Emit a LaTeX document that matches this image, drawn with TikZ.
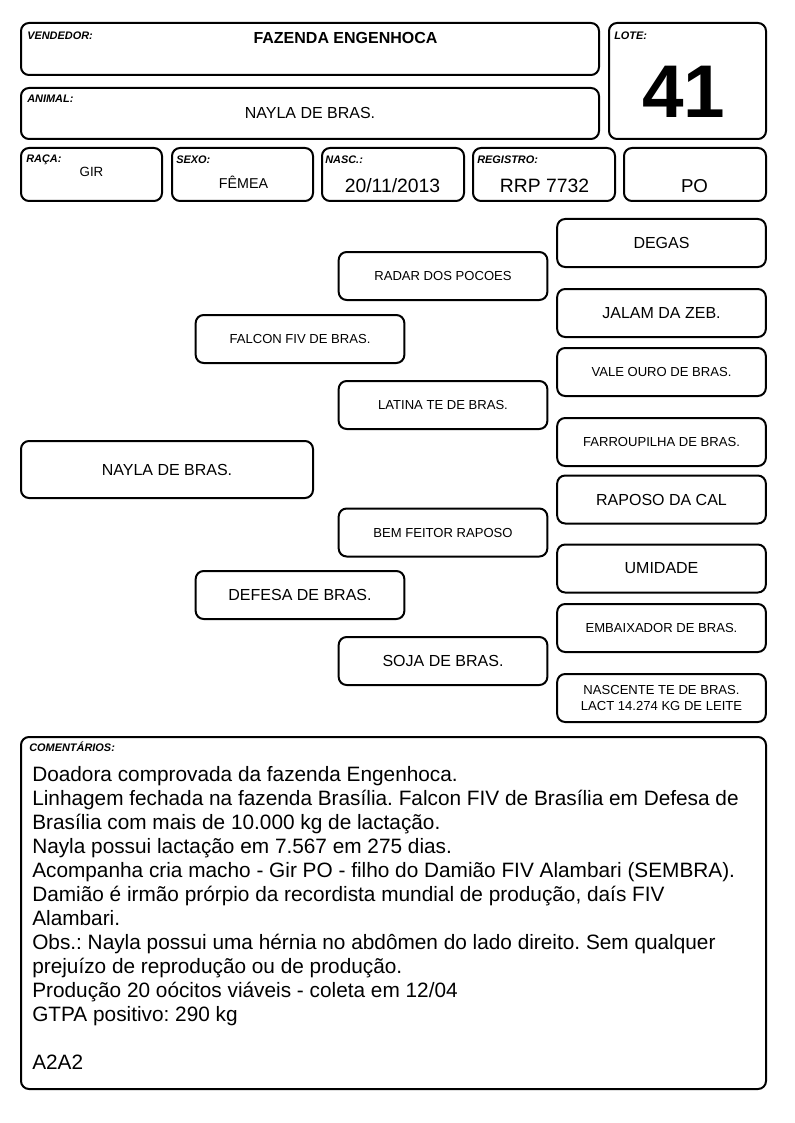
\documentclass[tikz,border=0pt]{standalone}
\usepackage{fontspec}
\setmainfont{Liberation Sans}
\usepackage{tikz}
\usetikzlibrary{positioning}
\frenchspacing

\begin{document}
\begin{tikzpicture}[x=0.75pt, y=-0.75pt,
	box/.style={draw, line width=1.5pt, rounded corners=6pt, inner sep=0pt},
	anc/.style={box, minimum width=156.5pt, minimum height=36pt, align=center},
	tag/.style={anchor=base west, inner sep=0pt, font=\fontsize{8.2}{9}\selectfont\bfseries\itshape},
	bignm/.style={font=\fontsize{12}{14}\selectfont},
	smallnm/.style={font=\fontsize{9.8}{12}\selectfont}]
				\useasboundingbox (0,0) rectangle (794,1123);
				
				% cabecalho
				\node[box, minimum width=433.5pt, minimum height=39pt] (vendedor) at (310,49) {};
				\node[box, minimum width=433.5pt, minimum height=38.25pt] (animal) at (310,113.5) {};
				\node[box, minimum width=117.75pt, minimum height=87pt] (lote) at (687.5,81) {};
				\node[box, minimum width=105.75pt, minimum height=39.75pt] (raca) at (91.5,174.5) {};
				\node[box, minimum width=105.75pt, minimum height=39.75pt] (sexo) at (242.5,174.5) {};
				\node[box, minimum width=106.5pt, minimum height=39.75pt] (nasc) at (393,174.5) {};
				\node[box, minimum width=106.5pt, minimum height=39.75pt] (registro) at (544,174.5) {};
				\node[box, minimum width=106.5pt, minimum height=39.75pt] (po) at (695,174.5) {};
				
				\node[tag] at ([shift={(7,17.5)}]vendedor.north west) {VENDEDOR:};
				\node[tag] at ([shift={(6,17.5)}]lote.north west) {LOTE:};
				\node[tag] at ([shift={(7,16)}]animal.north west) {ANIMAL:};
				\node[tag] at ([shift={(6,16)}]raca.north west) {RAÇA:};
				\node[tag] at ([shift={(5,17)}]sexo.north west) {SEXO:};
				\node[tag] at ([shift={(4,17)}]nasc.north west) {NASC.:};
				\node[tag] at ([shift={(5,17)}]registro.north west) {REGISTRO:};
				
				\node[anchor=base, font=\fontsize{12}{14}\selectfont\bfseries] (vendnome) at (345.5,44) {FAZENDA ENGENHOCA};
				\node[anchor=base, bignm] (animnome) at (310,119) {NAYLA DE BRAS.};
				\node[anchor=base, font=\fontsize{56}{60}\selectfont\bfseries] (lotenum) at (684,118) {41};
				\node[anchor=base, font=\fontsize{10}{12}\selectfont] (racanome) at (91.5,177) {GIR};
				\node[anchor=base, font=\fontsize{10.7}{12}\selectfont] (sexonome) at (243.5,189) {FÊMEA};
				\node[anchor=base, font=\fontsize{14.5}{16}\selectfont] (nascdata) at (392.5,193) {20/11/2013};
				\node[anchor=base, font=\fontsize{14.5}{16}\selectfont] (regnum) at (544.5,193) {RRP 7732};
				\node[anchor=base, font=\fontsize{14}{16}\selectfont] (ponome) at (694.5,193) {PO};
				
				% genealogia
				\node[box, bignm, minimum width=219pt, minimum height=42.75pt] (nayla) at (167,469.5) {NAYLA DE BRAS.};
				\node[anc, smallnm] (falcon) at (300,339) {FALCON FIV DE BRAS.};
				\node[anc, bignm] (defesa) at (300,595) {DEFESA DE BRAS.};
				\node[anc, smallnm] (radar) at (443,276) {RADAR DOS POCOES};
				\node[anc, smallnm] (latina) at (443,405) {LATINA TE DE BRAS.};
				\node[anc, smallnm] (bemfeitor) at (443,532.5) {BEM FEITOR RAPOSO};
				\node[anc, bignm] (soja) at (443,661) {SOJA DE BRAS.};
				\node[anc, bignm] (degas) at (661.5,243) {DEGAS};
				\node[anc, bignm] (jalam) at (661.5,313) {JALAM DA ZEB.};
				\node[anc, smallnm] (valeouro) at (661.5,372) {VALE OURO DE BRAS.};
				\node[anc, smallnm] (farroupilha) at (661.5,442) {FARROUPILHA DE BRAS.};
				\node[anc, bignm] (raposo) at (661.5,499.5) {RAPOSO DA CAL};
				\node[anc, bignm] (umidade) at (661.5,568.5) {UMIDADE};
				\node[anc, smallnm] (embaixador) at (661.5,628) {EMBAIXADOR DE BRAS.};
				\node[anc, smallnm] (nascente) at (661.5,698) {NASCENTE TE DE BRAS.\\LACT 14.274 KG DE LEITE};
				
				% comentarios
				\node[box, minimum width=558.75pt, minimum height=264pt] (coment) at (393.5,913) {};
				\node[tag] at ([shift={(9,15.5)}]coment.north west) {COMENTÁRIOS:};
				\node[anchor=north west, inner sep=0pt, align=left, font=\fontsize{15.6}{18}\selectfont] (notas) at (32,766) {Doadora comprovada da fazenda Engenhoca.\\
					Linhagem fechada na fazenda Brasília. Falcon FIV de Brasília em Defesa de\\
					Brasília com mais de 10.000 kg de lactação.\\
					Nayla possui lactação em 7.567 em 275 dias.\\
					Acompanha cria macho - Gir PO - filho do Damião FIV Alambari (SEMBRA).\\
					Damião é irmão prórpio da recordista mundial de produção, daís FIV\\
					Alambari.\\
					Obs.: Nayla possui uma hérnia no abdômen do lado direito. Sem qualquer\\
					prejuízo de reprodução ou de produção.\\
					Produção 20 oócitos viáveis - coleta em 12/04\\
					GTPA positivo: 290 kg\\[18pt]
					A2A2};
			\end{tikzpicture}
\end{document}
